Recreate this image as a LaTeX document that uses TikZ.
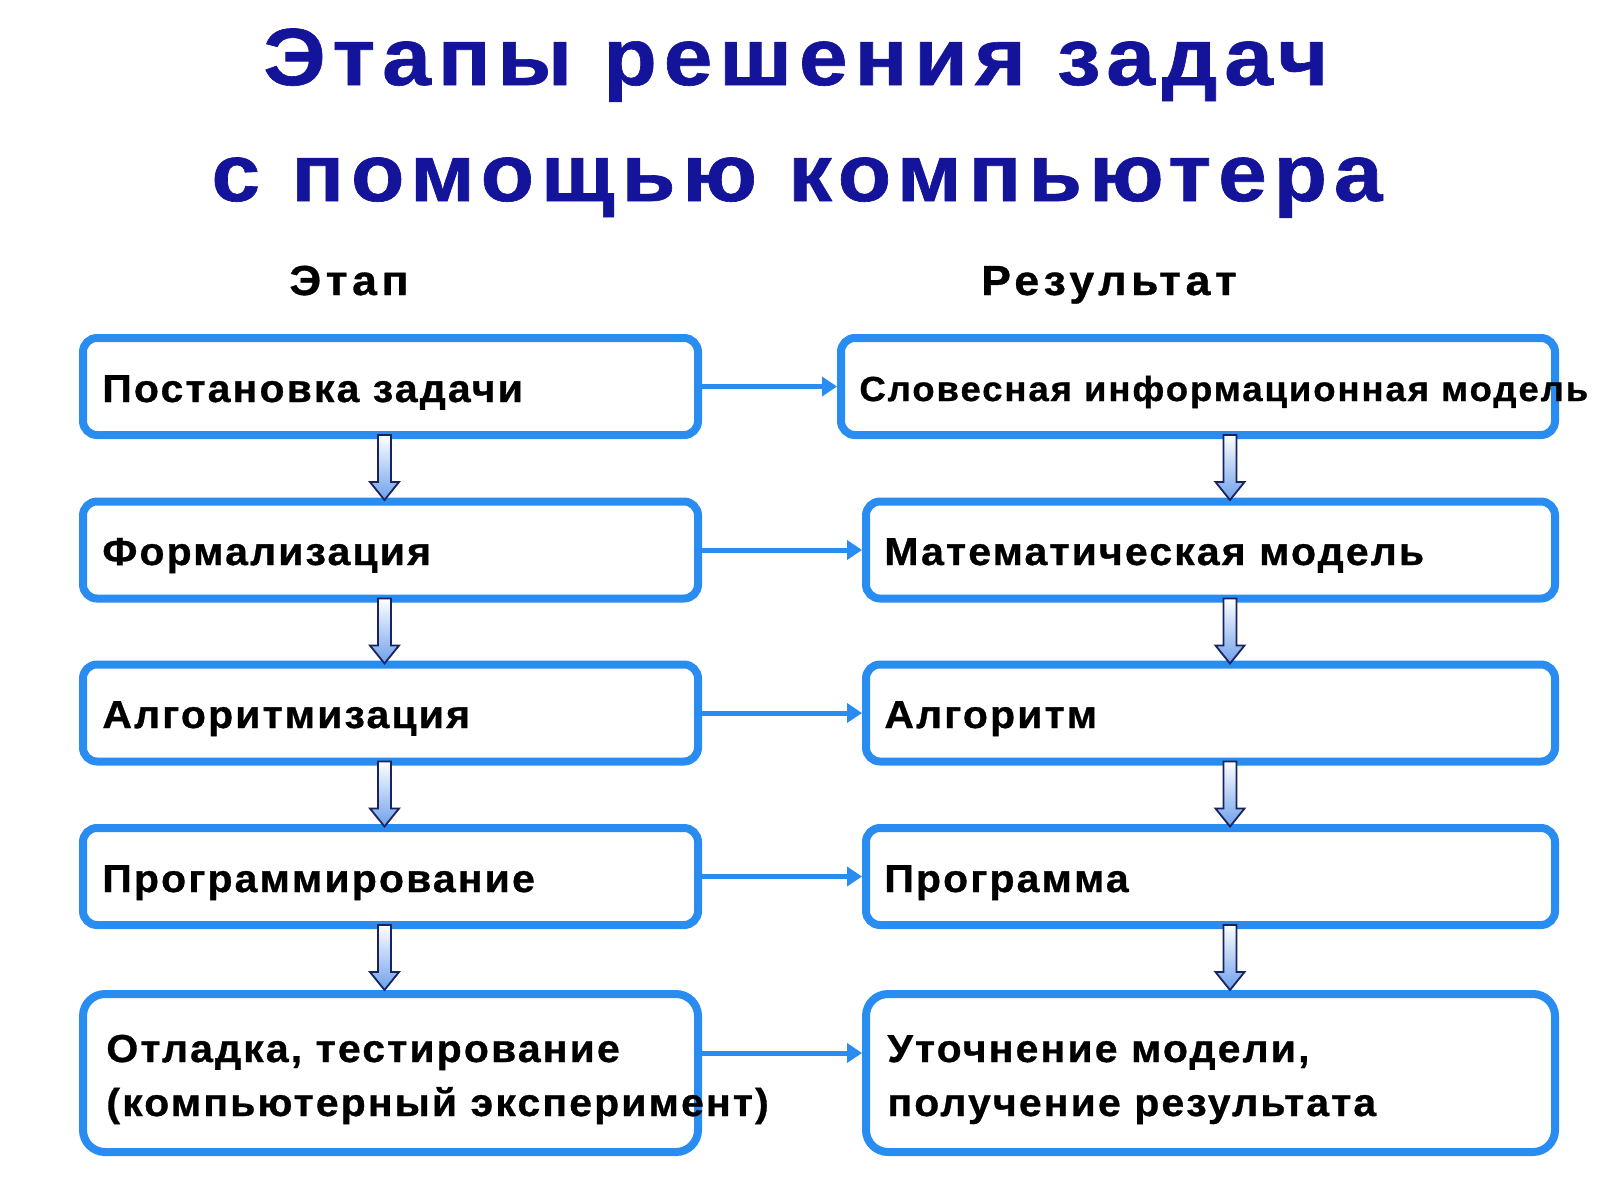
\documentclass[tikz,border=0pt]{standalone}
\usepackage{fontspec}
\setmainfont{Liberation Sans}
\newfontfamily\boxfont[LetterSpace=5.5,FakeStretch=1.05,FakeBold=0.8]{Liberation Sans}
\newfontfamily\ttlfont[LetterSpace=8.5,FakeStretch=1.08,FakeBold=0.8]{Liberation Sans}
\newfontfamily\hdrfont[LetterSpace=11,FakeStretch=1.06,FakeBold=0.8]{Liberation Sans}
\usetikzlibrary{arrows.meta,calc}
\definecolor{boxblue}{RGB}{40,140,240}
\definecolor{titlenavy}{RGB}{20,20,155}
\definecolor{arrline}{RGB}{25,35,95}
\definecolor{arrfill}{RGB}{110,160,235}
\tikzset{
  box/.style={draw=boxblue, line width=4pt, fill=white, minimum width=307.5pt, minimum height=48.5pt, rounded corners=7pt, inner sep=0pt},
  rbox/.style={box, minimum width=344.5pt},
  txt/.style={anchor=base west, inner sep=0pt, font=\boxfont\fontsize{19.5pt}{23pt}\selectfont\bfseries, text=black},
  hdr/.style={anchor=base, inner sep=0pt, font=\hdrfont\fontsize{21pt}{25pt}\selectfont\bfseries, text=black},
  ttl/.style={anchor=base, inner sep=0pt, font=\ttlfont\fontsize{40.5pt}{48pt}\selectfont\bfseries, text=titlenavy},
  harrow/.style={draw=boxblue, line width=2.5pt, -{Triangle[length=7.5pt,width=9.5pt]}},
  darr/.pic={\shadedraw[draw=arrline, line width=0.9pt, top color=white, bottom color=arrfill]
     (-6.5,0) -- (6.5,0) -- (6.5,47) -- (14.5,47) -- (0,65) -- (-14.5,47) -- (-6.5,47) -- cycle;}
}
\begin{document}
\begin{tikzpicture}[x=0.5pt,y=-0.5pt]
\useasboundingbox (0,0) rectangle (1600,1200);
\fill[white] (0,0) rectangle (1600,1200);
% title
\node[ttl] (t1) at (796,85) {Этапы решения задач};
\node[ttl] (t2) at (797,201) {с помощью компьютера};
\node[hdr] (h1) at (349,295) {Этап};
\node[hdr] (h2) at (1109,295) {Результат};
% left boxes
\node[box] (L1) at (390.5,386.5) {};
\node[box] (L2) at (390.5,550) {};
\node[box] (L3) at (390.5,713) {};
\node[box] (L4) at (390.5,876.5) {};
\node[box, minimum height=79pt, rounded corners=11pt] (L5) at (390.5,1073) {};
% right boxes
\node[box, minimum width=357pt] (R1) at (1198,386.5) {};
\node[rbox] (R2) at (1210.5,550) {};
\node[rbox] (R3) at (1210.5,713) {};
\node[rbox] (R4) at (1210.5,876.5) {};
\node[rbox, minimum height=79pt, rounded corners=11pt] (R5) at (1210.5,1073) {};
% horizontal arrows
\draw[harrow] (L1.east) -- (R1.west);
\draw[harrow] (L2.east) -- (R2.west);
\draw[harrow] (L3.east) -- (R3.west);
\draw[harrow] (L4.east) -- (R4.west);
\draw[harrow] ([yshift=10pt]L5.east) -- ([yshift=10pt]R5.west);
% down arrows
\foreach \a in {1,2,3,4}{
  \pic at ($(L\a.south)+(-6,-4)$) {darr};
}
\pic at ($(R1.south)+(32,-4)$) {darr};
\foreach \a in {2,3,4}{
  \pic at ($(R\a.south)+(19.5,-4)$) {darr};
}
% texts
\node[txt] (a1) at (102,402) {Постановка задачи};
\node[txt] (a2) at (102,565) {Формализация};
\node[txt] (a3) at (102,728) {Алгоритмизация};
\node[txt] (a4) at (102,892) {Программирование};
\node[txt] (a5) at (106,1062) {Отладка, тестирование};
\node[txt] (a6) at (106,1116) {(компьютерный эксперимент)};
\node[txt, font=\boxfont\fontsize{17.4pt}{21pt}\selectfont\bfseries] (b1) at (859,401) {Словесная информационная модель};
\node[txt] (b2) at (884,565) {Математическая модель};
\node[txt] (b3) at (884,728) {Алгоритм};
\node[txt] (b4) at (884,892) {Программа};
\node[txt] (b5) at (887,1062) {Уточнение модели,};
\node[txt] (b6) at (887,1116) {получение результата};
\end{tikzpicture}
\end{document}
